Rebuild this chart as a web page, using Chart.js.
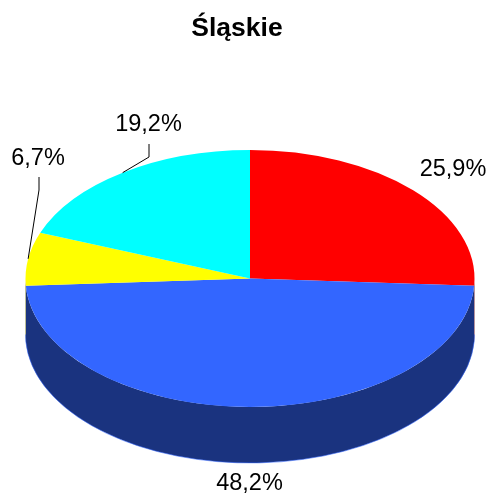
<!DOCTYPE html>
<html>
<head>
<meta charset="utf-8">
<title>Śląskie</title>
<script src="https://cdn.jsdelivr.net/npm/chart.js@4"></script>
<style>
  html, body { margin: 0; padding: 0; background: #fff; }
  canvas { display: block; }
</style>
</head>
<body>
<canvas id="pie" width="490" height="494"></canvas>
<script>
const chartTitle = "Śląskie";
const sliceLabels = ["25,9%", "48,2%", "6,7%", "19,2%"];
const sliceValues = [25.9, 48.2, 6.7, 19.2];
const sliceColors = ["#ff0000", "#3366ff", "#ffff00", "#00ffff"];
const sideColors = ["#800000", "#1a337f", "#808000", "#008080"];

// pie is drawn as a circle by the library, only x gets stretched to make the ellipse
const stretchX = 224.5 / 128.5;
const depth = 56;
const titleShift = -13;
const fontFamily = '"Liberation Sans", Arial, sans-serif';

// where each value text sits, and the bend of its leader line (null = no leader)
const labelPlaces = [
  { x: 453, y: 170, leader: null },
  { x: 249.5, y: 484, leader: null },
  { x: 38, y: 159, leader: [[39, 177], [39, 190]] },
  { x: 148.5, y: 125, leader: [[149, 144], [149, 157]] },
];

const pie3d = {
  id: "pie3d",
  afterLayout(chart) {
    // title is off-centre in the original
    chart.titleBlock.left += titleShift;
    chart.titleBlock.right += titleShift;
  },
  beforeDatasetsDraw(chart) {
    const ctx = chart.ctx;
    const arcs = chart.getDatasetMeta(0).data;
    ctx.save();
    ctx.translate(arcs[0].x, 0);
    ctx.scale(stretchX, 1);
    ctx.translate(-arcs[0].x, 0);
    // side wall, only the part of each slice facing the viewer
    arcs.forEach((arc, i) => {
      const from = Math.max(arc.startAngle, 0);
      const to = Math.min(arc.endAngle, Math.PI);
      if (to <= from) return;
      ctx.beginPath();
      ctx.arc(arc.x, arc.y, arc.outerRadius, from, to);
      ctx.arc(arc.x, arc.y + depth, arc.outerRadius, to, from, true);
      ctx.closePath();
      ctx.fillStyle = sideColors[i];
      ctx.fill();
      ctx.beginPath();
      ctx.arc(arc.x, arc.y + depth, arc.outerRadius, from, to);
      ctx.strokeStyle = sliceColors[1];
      ctx.lineWidth = 0.4;
      ctx.stroke();
    });
  },
  afterDatasetsDraw(chart) {
    const ctx = chart.ctx;
    ctx.restore();
    const arcs = chart.getDatasetMeta(0).data;
    ctx.save();
    ctx.fillStyle = "#000";
    ctx.strokeStyle = "#000";
    ctx.lineWidth = 1;
    ctx.font = "23.5px " + fontFamily;
    ctx.textAlign = "center";
    ctx.textBaseline = "middle";
    arcs.forEach((arc, i) => {
      const place = labelPlaces[i];
      ctx.fillText(sliceLabels[i], place.x, place.y);
      if (!place.leader) return;
      const mid = (arc.startAngle + arc.endAngle) / 2;
      ctx.beginPath();
      ctx.moveTo(place.leader[0][0], place.leader[0][1]);
      ctx.lineTo(place.leader[1][0], place.leader[1][1]);
      ctx.lineTo(arc.x + stretchX * arc.outerRadius * Math.cos(mid), arc.y + arc.outerRadius * Math.sin(mid));
      ctx.stroke();
    });
    ctx.restore();
  },
};

new Chart(document.getElementById("pie"), {
  type: "pie",
  data: {
    labels: sliceLabels,
    datasets: [
      {
        data: sliceValues,
        backgroundColor: sliceColors,
        borderWidth: 0,
        clip: false,
      },
    ],
  },
  options: {
    responsive: false,
    animation: false,
    devicePixelRatio: 1,
    events: [],
    layout: { padding: { top: 0, bottom: 87, left: 121.5, right: 111.5 } },
    plugins: {
      legend: { display: false },
      tooltip: { enabled: false },
      title: {
        display: true,
        text: chartTitle,
        color: "#000",
        font: { family: fontFamily, size: 26.5, weight: "bold", lineHeight: 1.2 },
        padding: { top: 13, bottom: 105.2 },
      },
    },
  },
  plugins: [pie3d],
});
</script>
</body>
</html>
